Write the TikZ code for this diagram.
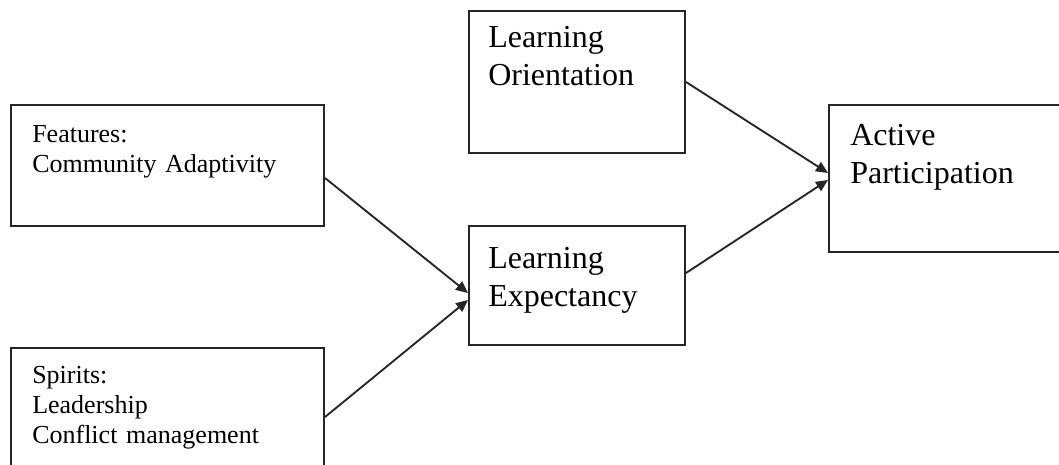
\documentclass[tikz,border=0pt]{standalone}
\usepackage{fontspec}
\setmainfont{Liberation Serif}
\usetikzlibrary{arrows.meta,calc}
\begin{document}
\begin{tikzpicture}[x=0.75pt,y=-0.75pt,
  box/.style={draw=black!85,line width=1.5pt,rectangle,anchor=north west,inner sep=0pt},
  smalltxt/.style={anchor=base west,inner sep=0pt,align=left,text width=300*0.75pt,
    font=\fontsize{19.5pt}{22.5pt}\selectfont},
  bigtxt/.style={anchor=base west,inner sep=0pt,align=left,text width=200*0.75pt,
    font=\fontsize{24pt}{28.5pt}\selectfont},
  link/.style={line width=1.4pt,draw=black!85,-{Triangle[length=9pt,width=8pt]}}]
\useasboundingbox (0,0) rectangle (1059,464);
\clip (0,0) rectangle (1059,464);
\fill[white] (0,0) rectangle (1059,464);
% boxes
\node[box,minimum width=313*0.75pt,minimum height=121*0.75pt] (feat) at (10,104) {};
\node[box,minimum width=313*0.75pt,minimum height=130*0.75pt] (spir) at (10,347) {};
\node[box,minimum width=216*0.75pt,minimum height=142*0.75pt] (lo) at (468,10) {};
\node[box,minimum width=216*0.75pt,minimum height=119*0.75pt] (le) at (468,225) {};
\node[box,minimum width=245*0.75pt,minimum height=147*0.75pt] (ap) at (828,104) {};
% texts
\node[smalltxt] (featT) at (32,142) {Features:\\Community Adaptivity};
\node[smalltxt] (spirT) at (32,383) {Spirits:\\Leadership\\Conflict management};
\node[bigtxt] (loT) at (488,47) {Learning\\Orientation};
\node[bigtxt] (leT) at (488,268) {Learning\\Expectancy};
\node[bigtxt] (apT) at (850,145) {Active\\Participation};
% connectors
\coordinate (f1) at ($(feat.north east)+(0,74)$);
\coordinate (s1) at ($(spir.north east)+(0,70)$);
\coordinate (le1) at ($(le.north west)+(0,68)$);
\coordinate (le2) at ($(le.north west)+(0,75)$);
\coordinate (lo1) at ($(lo.north east)+(0,72)$);
\coordinate (le3) at ($(le.north east)+(0,48)$);
\coordinate (ap1) at ($(ap.north west)+(0,69)$);
\coordinate (ap2) at ($(ap.north west)+(0,76)$);
\draw[link] (f1) -- (le1);
\draw[link] (s1) -- (le2);
\draw[link] (lo1) -- (ap1);
\draw[link] (le3) -- (ap2);
\end{tikzpicture}
\end{document}
